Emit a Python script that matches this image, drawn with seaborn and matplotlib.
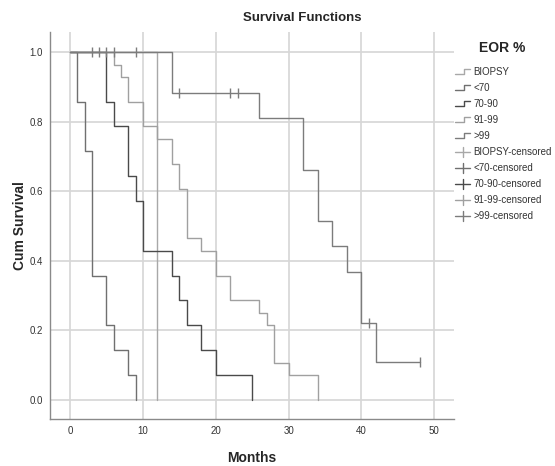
"""
Kaplan-Meier style survival functions by extent of resection (EOR %).
"""
import numpy as np
import pandas as pd
import matplotlib
matplotlib.use('Agg')
import matplotlib.pyplot as plt
from matplotlib.lines import Line2D
from matplotlib.legend_handler import HandlerBase
import seaborn as sns

# ---- data ----
groups = ['BIOPSY', '<70', '70-90', '91-99', '>99']

biopsy_months = [0, 12]
biopsy_surv = [1.0, 0.0]

lt70_months = [0, 1, 2, 3, 5, 6, 8, 9]
lt70_surv = [1.0, 0.857, 0.714, 0.357, 0.214, 0.143, 0.071, 0.0]

mid_months = [0, 5, 6, 8, 9, 10, 14, 15, 16, 18, 20, 25]
mid_surv = [1.0, 0.857, 0.786, 0.643, 0.571, 0.429, 0.357, 0.286, 0.214, 0.143, 0.071, 0.0]

high_months = [0, 6, 7, 8, 10, 12, 14, 15, 16, 18, 20, 22, 26, 27, 28, 30, 34]
high_surv = [1.0, 0.964, 0.929, 0.857, 0.786, 0.750, 0.679, 0.607, 0.464, 0.429,
             0.357, 0.286, 0.250, 0.214, 0.107, 0.071, 0.0]

gt99_months = [0, 14, 26, 32, 34, 36, 38, 40, 42, 48]
gt99_surv = [1.0, 0.882, 0.809, 0.662, 0.515, 0.441, 0.368, 0.221, 0.110, 0.110]

# censored observations
cens_months = [3, 4, 5, 6, 9, 15, 22, 23, 41, 48]
cens_surv = [1.0, 1.0, 1.0, 1.0, 1.0, 0.882, 0.882, 0.882, 0.221, 0.110]

x_ticks = [0, 10, 20, 30, 40, 50]
y_ticks = [0.0, 0.2, 0.4, 0.6, 0.8, 1.0]

colors = {
    'BIOPSY': '#a8a8a8',
    '<70': '#707070',
    '70-90': '#4a4a4a',
    '91-99': '#a0a0a0',
    '>99': '#7c7c7c',
}

curves = {
    'BIOPSY': (biopsy_months, biopsy_surv),
    '<70': (lt70_months, lt70_surv),
    '70-90': (mid_months, mid_surv),
    '91-99': (high_months, high_surv),
    '>99': (gt99_months, gt99_surv),
}


class StepHandler(HandlerBase):
    def create_artists(self, legend, orig_handle, xdescent, ydescent,
                       width, height, fontsize, trans):
        x0 = -xdescent
        x1 = x0 + width
        xm = x0 + width * 0.62
        y0 = -ydescent + height * 0.1
        y1 = -ydescent + height * 0.9
        line = Line2D([x0, xm, xm, x1], [y0, y0, y1, y1],
                      color=orig_handle.get_color(), lw=1.0, transform=trans)
        return [line]


class CensorHandler(HandlerBase):
    def create_artists(self, legend, orig_handle, xdescent, ydescent,
                       width, height, fontsize, trans):
        x0 = -xdescent
        x1 = x0 + width
        xm = x0 + width * 0.55
        ym = -ydescent + height * 0.5
        h = Line2D([x0, x1], [ym, ym], color=orig_handle.get_color(),
                   lw=1.0, transform=trans)
        v = Line2D([xm, xm], [-ydescent - 1, -ydescent + height + 1],
                   color=orig_handle.get_color(), lw=1.0, transform=trans)
        return [h, v]


sns.set_style('white')
plt.rcParams['font.family'] = ['Liberation Sans', 'DejaVu Sans']

fig = plt.figure(figsize=(5.55, 4.66), dpi=100)
ax = fig.add_axes([0.090, 0.101, 0.728, 0.830])

for g in groups:
    t, s = curves[g]
    df = pd.DataFrame({'Months': t, 'Survival': s})
    sns.lineplot(data=df, x='Months', y='Survival', ax=ax, color=colors[g],
                 drawstyle='steps-post', estimator=None, lw=1.0, zorder=3)

cens_df = pd.DataFrame({'Months': cens_months, 'Survival': cens_surv})
sns.scatterplot(data=cens_df, x='Months', y='Survival', ax=ax, marker='|',
                s=45, color=colors['>99'], linewidth=1.0, zorder=4)

ax.set_xlim(-2.75, 52.7)
ax.set_ylim(-0.055, 1.057)
ax.set_xticks(x_ticks)
ax.set_yticks(y_ticks)
ax.set_yticklabels([f'{v:.1f}' for v in y_ticks])
ax.grid(True, color='#d6d6d6', lw=1.2)
ax.set_axisbelow(True)
ax.tick_params(length=0, labelsize=7, colors='#333333', pad=5)

for side in ['top', 'right']:
    ax.spines[side].set_visible(False)
for side in ['left', 'bottom']:
    ax.spines[side].set_color('#8a8a8a')
    ax.spines[side].set_linewidth(1.0)

ax.set_xlabel('Months', fontsize=10, fontweight='bold', labelpad=11)
ax.set_ylabel('Cum Survival', fontsize=10, fontweight='bold', labelpad=2)

fig.text(302 / 555, 1 - 18 / 466, 'Survival Functions', ha='center', va='center',
         fontsize=9.5, fontweight='bold')
fig.text(502 / 555, 1 - 48 / 466, 'EOR %', ha='center', va='center',
         fontsize=10, fontweight='bold')

handles = [Line2D([], [], color=colors[g]) for g in groups]
cens_handles = [Line2D([], [], color=colors[g], marker='|') for g in groups]
labels = groups + [f'{g}-censored' for g in groups]
handler_map = {h: StepHandler() for h in handles}
handler_map.update({h: CensorHandler() for h in cens_handles})

leg = fig.legend(handles + cens_handles, labels, handler_map=handler_map,
                 loc='upper left', bbox_to_anchor=(455 / 555, 1 - 67 / 466),
                 frameon=False, fontsize=7,
                 handlelength=1.5, handletextpad=0.4, labelspacing=0.62,
                 borderpad=0, borderaxespad=0)
for txt in leg.get_texts():
    txt.set_color('#333333')

fig.savefig('out.png', dpi=100)
